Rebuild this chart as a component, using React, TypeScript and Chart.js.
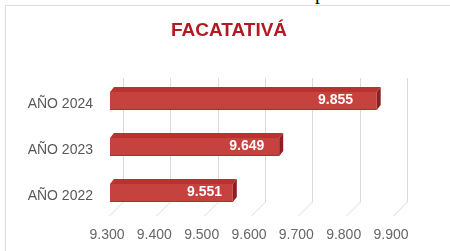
import React, { useEffect, useRef } from "react";
import { Chart, registerables } from "chart.js";

Chart.register(...registerables);

const categories = ["AÑO 2024", "AÑO 2023", "AÑO 2022"];
const values = [9855, 9649, 9551];
const valueLabels = ["9.855", "9.649", "9.551"];
const tickValues = [9300, 9400, 9500, 9600, 9700, 9800, 9900];
const tickLabels = ["9.300", "9.400", "9.500", "9.600", "9.700", "9.800", "9.900"];
const titleText = "FACATATIVÁ";

const FONT = "'Liberation Sans', Arial, sans-serif";
const FRONT = "#c6423e";

const threeD = {
  id: "threeD",
  beforeDatasetsDraw(chart: any) {
    const { ctx, chartArea } = chart;
    const xs = chart.scales.x;
    ctx.save();
    ctx.strokeStyle = "#dadada";
    ctx.lineWidth = 1;
    tickValues.forEach((v) => {
      const px = Math.round(xs.getPixelForValue(v)) + 0.5;
      ctx.beginPath();
      ctx.moveTo(px + 9, chartArea.top);
      ctx.lineTo(px + 9, chartArea.bottom - 14);
      ctx.lineTo(px - 5, chartArea.bottom);
      ctx.stroke();
    });
    // title
    ctx.fillStyle = "#b01b22";
    ctx.font = "bold 19px " + FONT;
    ctx.textAlign = "center";
    ctx.textBaseline = "middle";
    ctx.fillText(titleText, chart.width / 2 + 4, 31);
    ctx.restore();
  },
  afterDatasetsDraw(chart: any) {
    const { ctx } = chart;
    const meta = chart.getDatasetMeta(0);
    ctx.save();
    meta.data.forEach((bar: any, i: number) => {
      const x0 = bar.base;
      const x1 = bar.x;
      const top = bar.y - bar.height / 2;
      const bot = bar.y + bar.height / 2;
      const dx = 4;
      const dy = 5;
      const xl = x0 - 4;
      // front extension toward the floor edge
      ctx.fillStyle = FRONT;
      ctx.fillRect(xl, top, x0 - xl, bot - top);
      // top face
      ctx.fillStyle = "#b8332f";
      ctx.beginPath();
      ctx.moveTo(xl, top);
      ctx.lineTo(xl + dx, top - dy);
      ctx.lineTo(x1 + dx, top - dy);
      ctx.lineTo(x1, top);
      ctx.closePath();
      ctx.fill();
      // side face
      ctx.fillStyle = "#8e1f1f";
      ctx.beginPath();
      ctx.moveTo(x1, top);
      ctx.lineTo(x1 + dx, top - dy);
      ctx.lineTo(x1 + dx, bot - dy);
      ctx.lineTo(x1, bot);
      ctx.closePath();
      ctx.fill();
      // bottom shade
      ctx.fillStyle = "rgba(120,20,20,0.35)";
      ctx.fillRect(xl, bot - 1, x1 - xl, 1);
      // value label
      ctx.fillStyle = "#ffffff";
      ctx.font = "bold 14px " + FONT;
      ctx.textAlign = "right";
      ctx.textBaseline = "middle";
      const tx = x0 + (x1 - x0) * 0.91;
      ctx.fillText(valueLabels[i], tx, bar.y - 1);
    });
    ctx.restore();
  },
};

export default function App() {
  const ref = useRef<HTMLCanvasElement | null>(null);

  useEffect(() => {
    if (!ref.current) return;
    const chart = new Chart(ref.current, {
      type: "bar",
      data: {
        labels: categories,
        datasets: [
          {
            data: values,
            base: 9300,
            backgroundColor: FRONT,
            borderWidth: 0,
            barPercentage: 0.39,
            categoryPercentage: 1,
          },
        ],
      },
      options: {
        indexAxis: "y",
        responsive: false,
        animation: false,
        layout: { padding: { left: 0, right: 52, top: 78, bottom: 7 } },
        plugins: {
          legend: { display: false },
          tooltip: { enabled: false },
          title: { display: false },
        },
        scales: {
          x: {
            min: 9300,
            max: 9900,
            afterBuildTicks: (s: any) => {
              s.ticks = tickValues.map((v) => ({ value: v }));
            },
            afterFit: (s: any) => {
              s.height = 28;
            },
            grid: { display: false, drawTicks: false },
            border: { display: false },
            ticks: {
              color: "#666666",
              font: { family: FONT, size: 14 },
              padding: 11,
              labelOffset: -7,
              maxRotation: 0,
              autoSkip: false,
              callback: (_v: any, i: number) => tickLabels[i],
            },
          },
          y: {
            afterFit: (s: any) => {
              s.width = 114;
            },
            grid: { display: false, drawTicks: false },
            border: { display: false },
            ticks: {
              color: "#595959",
              font: { family: FONT, size: 14 },
              padding: 21,
              labelOffset: 3,
            },
          },
        },
      },
      plugins: [threeD],
    });
    return () => chart.destroy();
  }, []);

  return (
    <div
      style={{
        position: "fixed",
        left: 0,
        top: 0,
        width: 450,
        height: 251,
        background: "#ffffff",
        overflow: "hidden",
      }}
    >
      <span
        style={{
          position: "absolute",
          left: 315,
          top: -19,
          fontFamily: "'Liberation Serif', serif",
          fontSize: 20,
          lineHeight: "23px",
          color: "#000",
        }}
      >
        p
      </span>
      <div
        style={{
          position: "absolute",
          left: 5,
          top: 5,
          width: 470,
          height: 270,
          border: "1px solid #dedede",
          boxShadow: "0 0 2px rgba(0,0,0,0.06)",
        }}
      />
      <canvas
        ref={ref}
        width={450}
        height={251}
        style={{ position: "absolute", left: 0, top: 0, width: 450, height: 251 }}
      />
    </div>
  );
}
